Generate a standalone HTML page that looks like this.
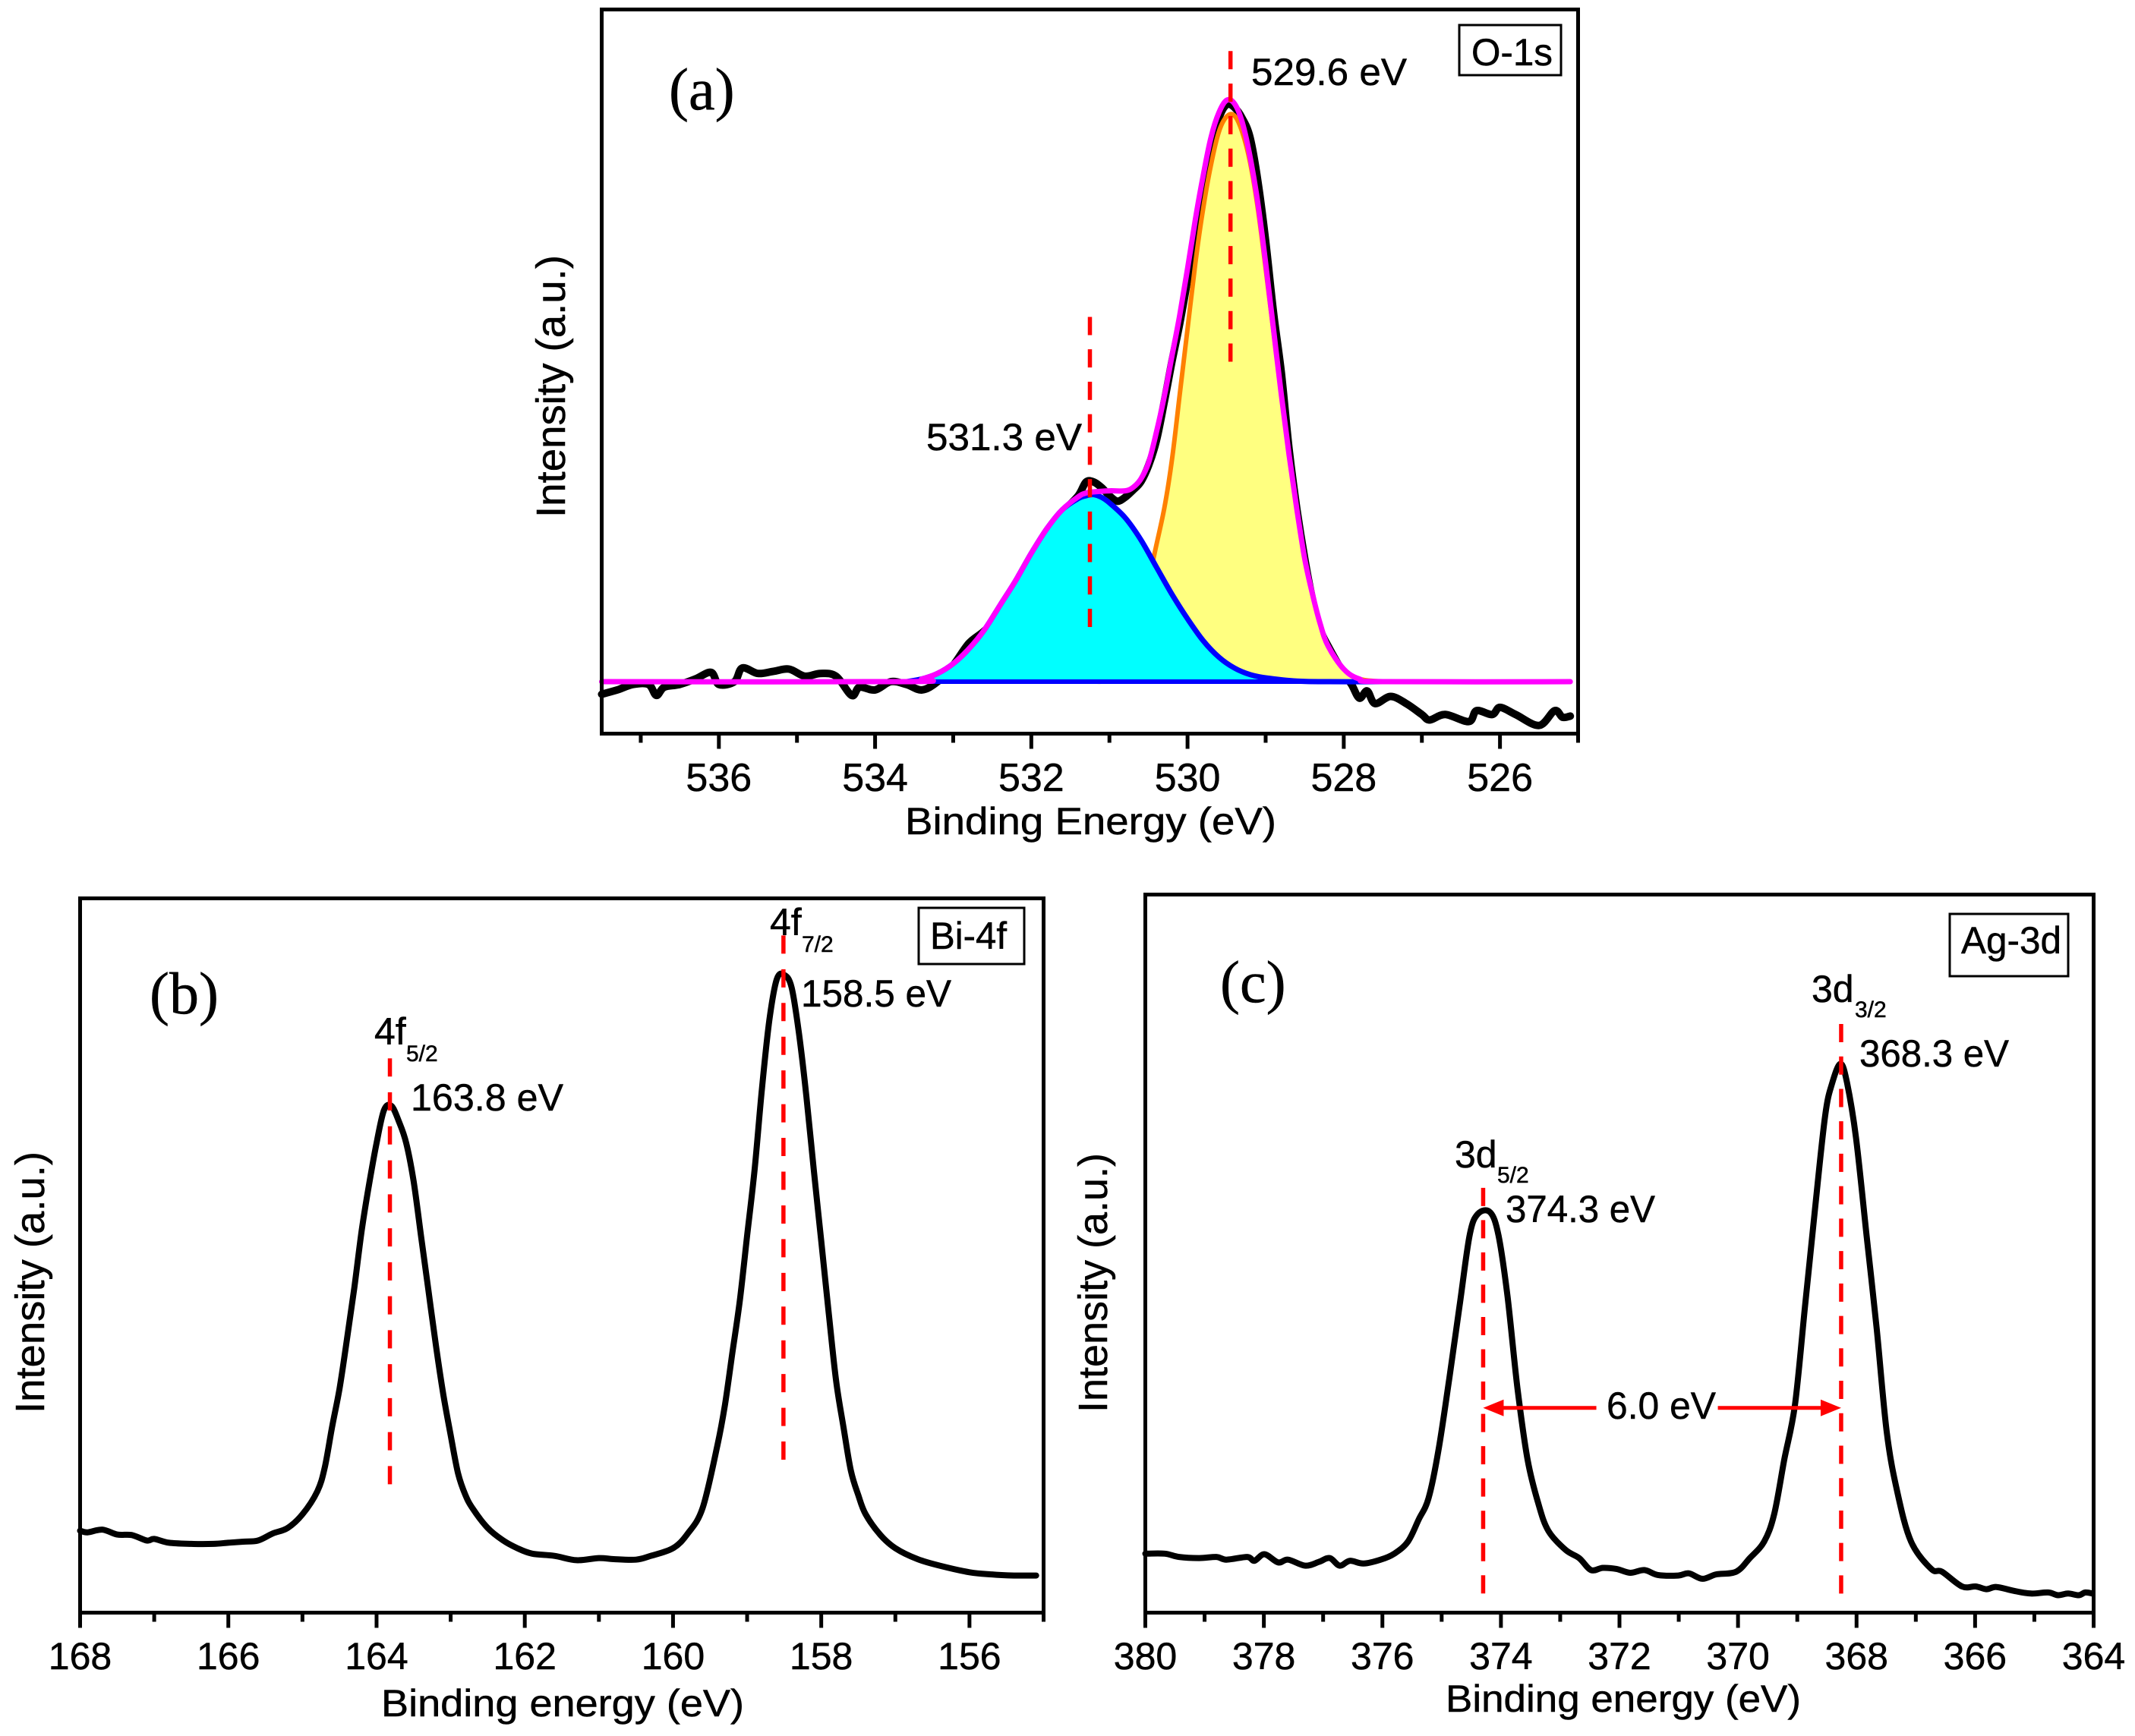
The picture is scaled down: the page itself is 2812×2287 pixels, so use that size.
<!DOCTYPE html>
<html lang="en">
<head>
<meta charset="utf-8">
<title>XPS spectra: O-1s, Bi-4f and Ag-3d</title>
<style>
html,body{margin:0;padding:0;background:#fff;}
svg{display:block;}
text{font-family:"Liberation Sans",sans-serif;fill:#000;stroke:#000;stroke-width:0.5px;}
.serif{font-family:"Liberation Serif",serif;font-size:78px;}
.anno{font-size:50px;}
.sub{font-size:30px;}
</style>
</head>
<body>
<svg id="figure" xmlns="http://www.w3.org/2000/svg" width="2812" height="2287" viewBox="0 0 2812 2287">
  <rect x="0" y="0" width="2812" height="2287" fill="#fff"/>

  <g id="panel-a">
    <g id="marks-a"></g>
    <rect x="792.5" y="12.5" width="1286" height="954" fill="none" stroke="#000" stroke-width="5"/>
    <g id="ticks-a"></g>
    <text class="serif" x="881" y="144">(a)</text>
    <text class="anno" x="1648" y="112" textLength="205" lengthAdjust="spacingAndGlyphs">529.6 eV</text>
    <text class="anno" x="1220" y="593" textLength="205" lengthAdjust="spacingAndGlyphs">531.3 eV</text>
    <rect x="1922" y="33" width="134" height="66" fill="#fff" stroke="#000" stroke-width="3"/>
    <text class="anno" x="1938" y="86" textLength="107" lengthAdjust="spacingAndGlyphs">O-1s</text>
    <text class="anno" x="1192" y="1099" textLength="489" lengthAdjust="spacingAndGlyphs">Binding Energy (eV)</text>
    <text font-size="54" transform="translate(744 682) rotate(-90)" textLength="346" lengthAdjust="spacingAndGlyphs">Intensity (a.u.)</text>
  </g>

  <g id="panel-b">
    <g id="marks-b"></g>
    <rect x="105.5" y="1183.5" width="1269" height="941" fill="none" stroke="#000" stroke-width="5"/>
    <g id="ticks-b"></g>
    <text class="serif" x="197" y="1335">(b)</text>
    <text class="anno" x="493" y="1376">4f</text>
    <text class="sub" x="535" y="1398">5/2</text>
    <text class="anno" x="541" y="1463" textLength="201" lengthAdjust="spacingAndGlyphs">163.8 eV</text>
    <text class="anno" x="1014" y="1232">4f</text>
    <text class="sub" x="1056" y="1254">7/2</text>
    <text class="anno" x="1055" y="1326" textLength="198" lengthAdjust="spacingAndGlyphs">158.5 eV</text>
    <rect x="1210" y="1196" width="139" height="74" fill="#fff" stroke="#000" stroke-width="3"/>
    <text class="anno" x="1225" y="1250" textLength="101" lengthAdjust="spacingAndGlyphs">Bi-4f</text>
    <text class="anno" x="502" y="2261" textLength="478" lengthAdjust="spacingAndGlyphs">Binding energy (eV)</text>
    <text font-size="54" transform="translate(58 1862) rotate(-90)" textLength="345" lengthAdjust="spacingAndGlyphs">Intensity (a.u.)</text>
  </g>

  <g id="panel-c">
    <g id="marks-c"></g>
    <rect x="1508.5" y="1178.5" width="1249" height="946" fill="none" stroke="#000" stroke-width="5"/>
    <g id="ticks-c"></g>
    <text class="serif" x="1607" y="1320">(c)</text>
    <text class="anno" x="1916" y="1538">3d</text>
    <text class="sub" x="1972" y="1558">5/2</text>
    <text class="anno" x="1983" y="1610" textLength="197" lengthAdjust="spacingAndGlyphs">374.3 eV</text>
    <text class="anno" x="2386" y="1320">3d</text>
    <text class="sub" x="2443" y="1340">3/2</text>
    <text class="anno" x="2449" y="1405" textLength="197" lengthAdjust="spacingAndGlyphs">368.3 eV</text>
    <text class="anno" x="2116" y="1869" textLength="144" lengthAdjust="spacingAndGlyphs">6.0 eV</text>
    <rect x="2568" y="1204" width="156" height="82" fill="#fff" stroke="#000" stroke-width="3"/>
    <text class="anno" x="2583" y="1256" textLength="132" lengthAdjust="spacingAndGlyphs">Ag-3d</text>
    <text class="anno" x="1904" y="2255" textLength="468" lengthAdjust="spacingAndGlyphs">Binding energy (eV)</text>
    <text font-size="54" transform="translate(1458 1861) rotate(-90)" textLength="342" lengthAdjust="spacingAndGlyphs">Intensity (a.u.)</text>
  </g>
</svg>

<script>
/* ---------- Panel (a) O-1s data ---------- */
const aSpectrumEnergy = [537.5,537.3,537.1,536.9,536.8,536.7,536.5,536.3,536.1,536.0,535.8,535.7,535.5,535.3,535.1,534.9,534.7,534.5,534.3,534.2,534.0,533.8,533.6,533.4,533.2,533.0,532.8,532.6,532.4,532.2,532.0,531.8,531.6,531.4,531.3,531.2,531.1,531.0,530.9,530.8,530.7,530.6,530.5,530.4,530.3,530.2,530.1,530.0,529.9,529.8,529.7,529.6,529.5,529.4,529.3,529.2,529.1,529.0,528.9,528.8,528.7,528.6,528.5,528.4,528.3,528.2,528.0,527.9,527.8,527.7,527.6,527.4,527.2,527.0,526.9,526.7,526.4,526.3,526.1,526.0,525.8,525.5,525.3,525.2,525.1];
const aSpectrumIntensity = [72,80,90,90,70,85,90,100,112,90,95,120,110,114,118,105,110,105,70,85,80,95,90,80,95,125,165,188,218,275,325,370,405,435,460,460,450,435,425,432,445,460,490,535,605,680,750,830,920,995,1070,1125,1150,1145,1125,1090,1010,900,770,660,520,410,320,245,190,160,110,90,65,78,55,68,55,35,25,35,22,42,35,48,35,15,42,30,32];

const aFitEnergy = [537.5,533.6,533.4,533.2,533.0,532.8,532.6,532.4,532.2,532.0,531.8,531.6,531.4,531.3,531.2,531.0,530.8,530.7,530.6,530.5,530.4,530.3,530.2,530.1,530.0,529.9,529.8,529.7,529.6,529.5,529.4,529.3,529.2,529.1,529.0,528.9,528.8,528.7,528.6,528.5,528.4,528.3,528.2,528.0,527.8,527.5,525.1];
const aFitIntensity = [95,95,100,110,128,155,190,235,280,330,375,410,433,440,442,444,444,450,465,495,550,615,690,765,850,940,1020,1090,1135,1158,1152,1118,1055,970,860,740,620,510,410,320,255,200,160,118,100,95,95];

const aPeak531Energy = [533.6,533.4,533.2,533.0,532.8,532.6,532.4,532.2,532.0,531.8,531.6,531.4,531.3,531.2,531.1,531.0,530.8,530.6,530.4,530.2,530.0,529.8,529.6,529.4,529.2,529.0,528.6,528.2,527.5];
const aPeak531Intensity = [95,100,110,128,155,190,235,280,330,375,410,430,435,437,432,422,395,355,305,255,210,170,140,120,108,102,96,95,95];

const aPeak529Energy = [531.2,531.0,530.8,530.6,530.45,530.3,530.2,530.1,530.0,529.9,529.8,529.7,529.6,529.5,529.4,529.3,529.2,529.1,529.0,528.9,528.8,528.7,528.6,528.5,528.4,528.3,528.2,528.0,527.8,527.5];
const aPeak529Intensity = [95,97,115,190,310,410,500,620,740,860,960,1040,1100,1128,1130,1100,1045,960,850,735,620,510,410,320,255,200,160,118,100,95];

const aBaselineLevel = [95];
const aXTicks = [537,536,535,534,533,532,531,530,529,528,527,526,525];
const aXTickLabels = ["","536","","534","","532","","530","","528","","526",""];
const aMarkerEnergy = [531.25,529.45];
const aMarkerTop = [762,1248];
const aMarkerBottom = [195,680];

/* ---------- Panel (b) Bi-4f data ---------- */
const bSpectrumEnergy = [168.0,167.9,167.7,167.5,167.3,167.1,167.0,166.8,166.5,166.2,166.0,165.8,165.6,165.4,165.2,165.0,164.8,164.7,164.6,164.5,164.4,164.3,164.2,164.1,164.0,163.9,163.8,163.7,163.6,163.5,163.4,163.3,163.2,163.1,163.0,162.9,162.8,162.7,162.5,162.3,162.1,161.9,161.6,161.3,161.0,160.8,160.5,160.3,160.0,159.8,159.6,159.4,159.3,159.2,159.1,159.0,158.9,158.8,158.7,158.6,158.5,158.4,158.3,158.2,158.1,158.0,157.9,157.8,157.7,157.6,157.5,157.4,157.2,157.0,156.7,156.4,156.0,155.7,155.4,155.1];
const bSpectrumIntensity = [150,147,152,143,142,132,135,128,126,126,128,130,132,145,155,180,222,265,340,410,500,595,700,785,860,920,928,900,860,790,690,590,490,400,325,255,215,190,155,133,118,108,104,96,100,98,97,104,118,145,192,307,380,475,570,690,810,960,1085,1160,1168,1145,1060,945,810,680,550,425,340,260,215,180,142,118,98,86,74,70,68,68];
const bXTicks = [168,167,166,165,164,163,162,161,160,159,158,157,156,155];
const bXTickLabels = ["168","","166","","164","","162","","160","","158","","156",""];
const bMarkerEnergy = [163.82,158.51];
const bMarkerTop = [1015,1240];
const bMarkerBottom = [235,280];

/* ---------- Panel (c) Ag-3d data ---------- */
const cSpectrumEnergy = [380.0,379.67,379.43,379.09,378.8,378.63,378.28,378.16,377.99,377.76,377.59,377.3,377.07,376.89,376.72,376.55,376.32,376.03,375.8,375.57,375.39,375.22,375.05,374.87,374.7,374.53,374.39,374.18,374.04,373.89,373.72,373.55,373.37,373.2,372.91,372.68,372.48,372.28,372.05,371.82,371.58,371.35,371.01,370.83,370.6,370.37,370.03,369.8,369.56,369.39,369.22,369.04,368.87,368.7,368.53,368.41,368.27,368.16,368.01,367.83,367.66,367.49,367.31,367.08,366.74,366.56,366.22,365.99,365.81,365.64,365.35,365.06,364.77,364.6,364.43,364.25,364.14,364.02];
const cSpectrumIntensity = [108,108,102,100,102,97,102,95,107,92,97,86,93,100,86,95,90,97,108,130,170,210,300,430,560,690,730,733,690,580,410,280,200,150,115,100,78,82,80,73,78,69,68,72,62,70,75,100,130,180,280,380,560,740,910,970,1005,970,870,690,520,330,220,130,80,75,48,48,43,47,40,35,37,32,35,32,37,35];
const cXTicks = [380,379,378,377,376,375,374,373,372,371,370,369,368,367,366,365,364];
const cXTickLabels = ["380","","378","","376","","374","","372","","370","","368","","366","","364"];
const cMarkerEnergy = [374.3,368.26];
const cMarkerTop = [778,1078];
const cMarkerBottom = [35,35];
const cArrowLevel = [375];
const cArrowLeftSpan = [374.3,372.39];
const cArrowRightSpan = [370.34,368.26];

/* ---------- Axis functions ---------- */
const SVGNS = "http://www.w3.org/2000/svg";
const panelA = {left:792.5,right:2078.5,top:12.5,bottom:966.5,eLeft:537.5,eRight:525,iMax:1324,tickFont:52,tickBase:1042};
const panelB = {left:105.5,right:1374.5,top:1183.5,bottom:2124.5,eLeft:168,eRight:155,iMax:1308,tickFont:50,tickBase:2199};
const panelC = {left:1508.5,right:2757.5,top:1178.5,bottom:2124.5,eLeft:380,eRight:364,iMax:1315,tickFont:50,tickBase:2199};

function xScale(p,e){return p.left+(p.eLeft-e)/(p.eLeft-p.eRight)*(p.right-p.left);}
function yScale(p,v){return p.bottom-v/p.iMax*(p.bottom-p.top);}
function pathFrom(p,es,vs){
  const xs=es.map(function(e){return xScale(p,e);});
  const ys=vs.map(function(v){return yScale(p,v);});
  let d="M"+xs[0].toFixed(1)+" "+ys[0].toFixed(1);
  for(let i=0;i<xs.length-1;i++){
    const i0=Math.max(i-1,0), i3=Math.min(i+2,xs.length-1);
    const c1x=xs[i]+(xs[i+1]-xs[i0])/6, c1y=ys[i]+(ys[i+1]-ys[i0])/6;
    const c2x=xs[i+1]-(xs[i3]-xs[i])/6, c2y=ys[i+1]-(ys[i3]-ys[i])/6;
    d+="C"+c1x.toFixed(1)+" "+c1y.toFixed(1)+" "+c2x.toFixed(1)+" "+c2y.toFixed(1)+" "+xs[i+1].toFixed(1)+" "+ys[i+1].toFixed(1);
  }
  return d;
}
function areaFrom(p,es,vs,base){
  const y0=yScale(p,base).toFixed(1);
  return pathFrom(p,es,vs)+"L"+xScale(p,es[es.length-1]).toFixed(1)+" "+y0+"L"+xScale(p,es[0]).toFixed(1)+" "+y0+"Z";
}
function make(tag,parent,attrs){
  const node=document.createElementNS(SVGNS,tag);
  for(const k in attrs){node.setAttribute(k,attrs[k]);}
  parent.appendChild(node);
  return node;
}
function lineStyle(color,width){
  return {fill:"none",stroke:color,"stroke-width":width,"stroke-linejoin":"round","stroke-linecap":"round"};
}
function drawTicks(p,holder,ticks,labels){
  for(let i=0;i<ticks.length;i++){
    const major=labels[i]!=="";
    const x=xScale(p,ticks[i]);
    const t=make("line",holder,{x1:x,x2:x,y1:p.bottom,y2:p.bottom+(major?20:12),stroke:"#000","stroke-width":5});
    
    
    if(major){
      const lab=make("text",holder,{x:x,y:p.tickBase,"text-anchor":"middle","font-size":p.tickFont});
      
      
      lab.textContent=labels[i];
    }
  }
}
function drawMarkers(p,holder,es,tops,bottoms){
  for(let i=0;i<es.length;i++){
    const x=xScale(p,es[i]);
    const y1=yScale(p,tops[i]), y2=yScale(p,bottoms[i]);
    const len=y2-y1;
    const count=Math.round((len+20)/44);
    const gap=(len-count*24)/(count-1);
    const m=make("line",holder,{x1:x,x2:x,y1:y1,y2:y2,stroke:"#ff0000","stroke-width":5.5,"stroke-dasharray":"24 "+gap.toFixed(2)});
    
    
  }
}

/* ---------- Panel (a) ---------- */
const gA=document.getElementById("marks-a");
const aRaw=make("path",gA,Object.assign({d:pathFrom(panelA,aSpectrumEnergy,aSpectrumIntensity)},lineStyle("#000",10)));


const aYellow=make("path",gA,{d:areaFrom(panelA,aPeak529Energy,aPeak529Intensity,aBaselineLevel[0]),fill:"#ffff80"});


const aOrange=make("path",gA,Object.assign({d:pathFrom(panelA,aPeak529Energy,aPeak529Intensity)},lineStyle("#ff8000",6)));


const aCyan=make("path",gA,{d:areaFrom(panelA,aPeak531Energy,aPeak531Intensity,aBaselineLevel[0]),fill:"#00ffff"});


const aBlue=make("path",gA,Object.assign({d:pathFrom(panelA,aPeak531Energy,aPeak531Intensity)},lineStyle("#0000ff",7)));


const aBase=make("line",gA,{x1:xScale(panelA,aPeak531Energy[0]),x2:xScale(panelA,aPeak531Energy[aPeak531Energy.length-1]),y1:yScale(panelA,aBaselineLevel[0]),y2:yScale(panelA,aBaselineLevel[0]),stroke:"#0000ff","stroke-width":6});


const aFit=make("path",gA,Object.assign({d:pathFrom(panelA,aFitEnergy,aFitIntensity)},lineStyle("#ff00ff",7)));


drawMarkers(panelA,gA,aMarkerEnergy,aMarkerTop,aMarkerBottom);
drawTicks(panelA,document.getElementById("ticks-a"),aXTicks,aXTickLabels);

/* ---------- Panel (b) ---------- */
const gB=document.getElementById("marks-b");
const bRaw=make("path",gB,Object.assign({d:pathFrom(panelB,bSpectrumEnergy,bSpectrumIntensity)},lineStyle("#000",8)));


drawMarkers(panelB,gB,bMarkerEnergy,bMarkerTop,bMarkerBottom);
drawTicks(panelB,document.getElementById("ticks-b"),bXTicks,bXTickLabels);

/* ---------- Panel (c) ---------- */
const gC=document.getElementById("marks-c");
const cRaw=make("path",gC,Object.assign({d:pathFrom(panelC,cSpectrumEnergy,cSpectrumIntensity)},lineStyle("#000",8)));


drawMarkers(panelC,gC,cMarkerEnergy,cMarkerTop,cMarkerBottom);
const arrowY=yScale(panelC,cArrowLevel[0]);
const arrowL0=xScale(panelC,cArrowLeftSpan[0]);
const arrowL1=xScale(panelC,cArrowLeftSpan[1]);
const arrowR0=xScale(panelC,cArrowRightSpan[0]);
const arrowR1=xScale(panelC,cArrowRightSpan[1]);
const arrowLeft=make("line",gC,{x1:arrowL0+20,x2:arrowL1,y1:arrowY,y2:arrowY,stroke:"#ff0000","stroke-width":5});


const headLeft=make("polygon",gC,{points:arrowL0+","+arrowY+" "+(arrowL0+27)+","+(arrowY-11)+" "+(arrowL0+27)+","+(arrowY+11),fill:"#ff0000"});


const arrowRight=make("line",gC,{x1:arrowR0,x2:arrowR1-20,y1:arrowY,y2:arrowY,stroke:"#ff0000","stroke-width":5});


const headRight=make("polygon",gC,{points:arrowR1+","+arrowY+" "+(arrowR1-27)+","+(arrowY-11)+" "+(arrowR1-27)+","+(arrowY+11),fill:"#ff0000"});


drawTicks(panelC,document.getElementById("ticks-c"),cXTicks,cXTickLabels);
</script>
</body>
</html>
